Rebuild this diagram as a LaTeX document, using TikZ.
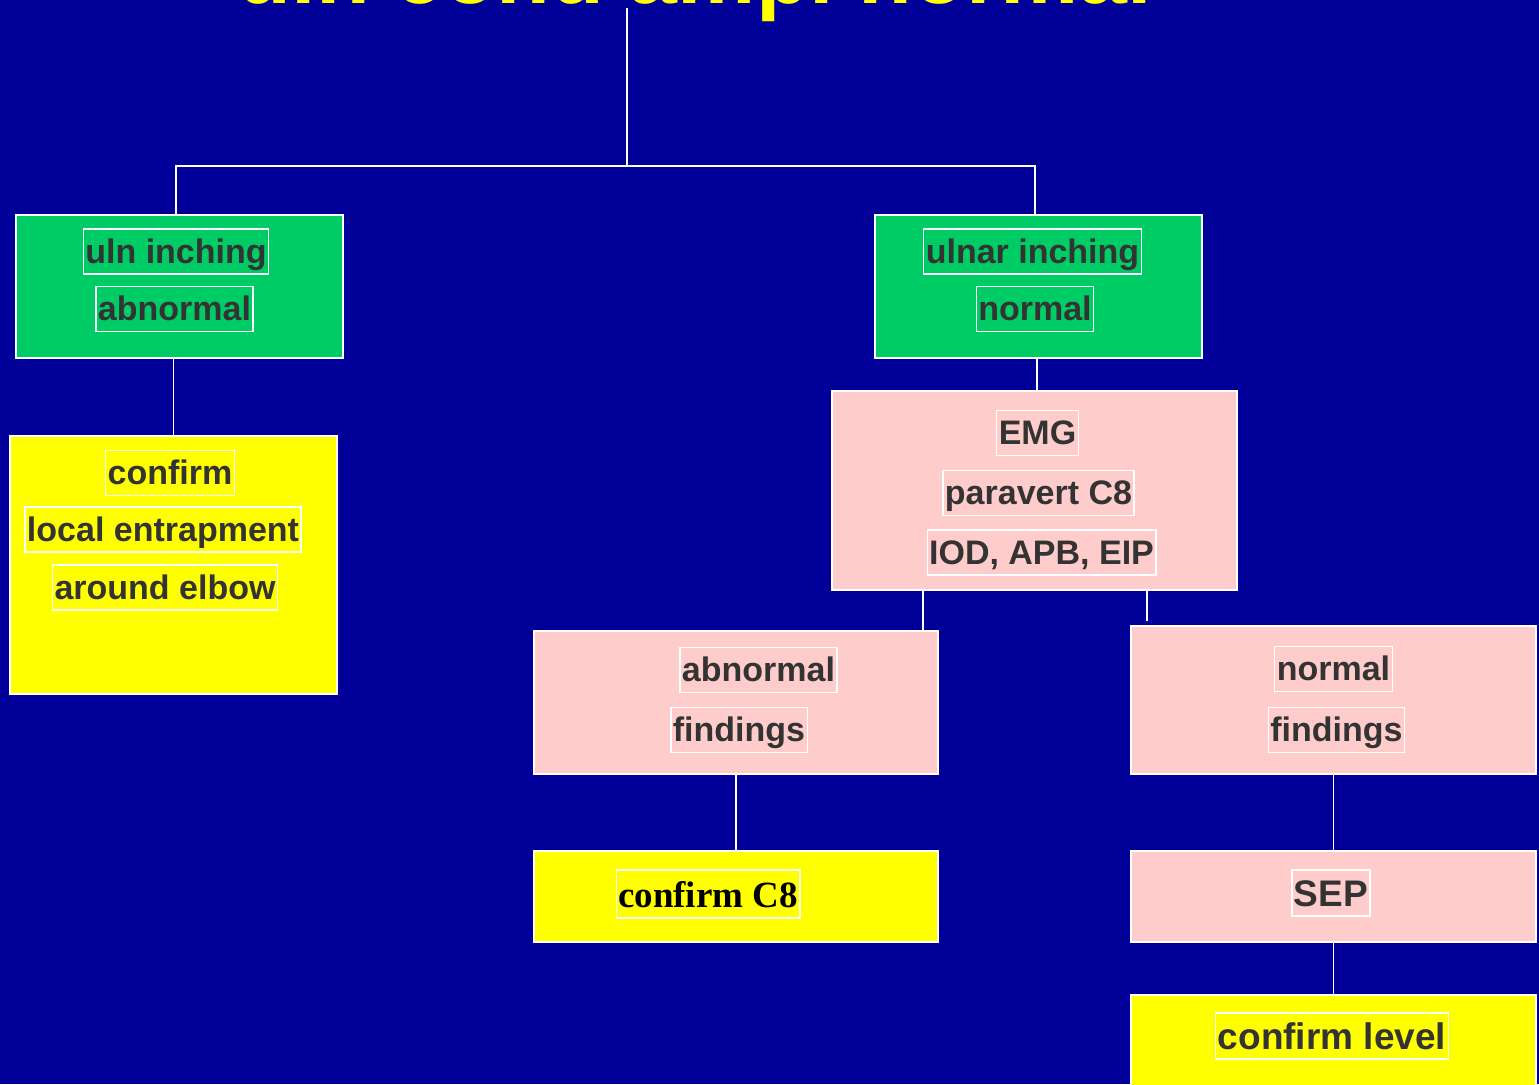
\documentclass[tikz,border=0pt]{standalone}
\usepackage{fontspec}
\setmainfont{Liberation Sans}
\newfontfamily\timesbold{Liberation Serif}
\usepackage{tikz}
\usetikzlibrary{calc}

\definecolor{bgblue}{HTML}{000099}
\definecolor{boxgreen}{HTML}{00CC66}
\definecolor{boxpink}{HTML}{FFCCCC}
\definecolor{boxyellow}{HTML}{FFFF00}
\definecolor{txtgray}{HTML}{333333}

\tikzset{
  box/.style={draw=white, line width=1.5pt, inner sep=0pt},
  greenbox/.style={box, fill=boxgreen},
  pinkbox/.style={box, fill=boxpink},
  yellowbox/.style={box, fill=boxyellow},
  tag/.style={draw=white, line width=1.2pt, text=txtgray, inner xsep=2pt, inner ysep=5pt,
    text height=29pt, text depth=6pt, font=\fontsize{34}{40}\selectfont\bfseries},
  bigtag/.style={tag, text height=31pt, text depth=5pt, font=\fontsize{37}{42}\selectfont\bfseries},
  link/.style={draw=white, line width=1.5pt},
  heading/.style={text=boxyellow, inner sep=0pt, font=\fontsize{88}{100}\selectfont\bfseries}
}

\begin{document}
\begin{tikzpicture}[x=1pt, y=-1pt]
			%%%%% START %%%%%
			\useasboundingbox (0,0) rectangle (1539,1084);
			\clip (0,0) rectangle (1539,1084);
			\fill[bgblue] (0,0) rectangle (1539,1084);
			
			\node[heading, anchor=base] (title) at (695,4) {uln cond ampl normal};
			
			% boxes
			\node[greenbox, minimum width=327pt, minimum height=143pt] (ulnabn) at (179.5,286.5) {};
			\node[greenbox, minimum width=327pt, minimum height=143pt] (ulnnorm) at (1038.5,286.5) {};
			\node[yellowbox, minimum width=327pt, minimum height=258pt] (entrap) at (173.5,565) {};
			\node[pinkbox, minimum width=405pt, minimum height=199pt] (emg) at (1034.5,490.5) {};
			\node[pinkbox, minimum width=404pt, minimum height=143pt] (abnfind) at (736,702.5) {};
			\node[pinkbox, minimum width=405pt, minimum height=148pt] (normfind) at (1333.5,700) {};
			\node[yellowbox, minimum width=404pt, minimum height=91pt] (cfeight) at (736,896.5) {};
			\node[pinkbox, minimum width=405pt, minimum height=91pt] (sep) at (1333.5,896.5) {};
			\node[yellowbox, minimum width=405pt, minimum height=100pt] (level) at (1333.5,1045) {};
			
			% texts
			\node[tag] (ulnabnA) at (176,251.5) {uln inching};
			\node[tag] (ulnabnB) at (174.5,309) {abnormal};
			\node[tag] (ulnnormA) at (1032.5,251.5) {ulnar inching};
			\node[tag] (ulnnormB) at (1035,309) {normal};
			
			\node[tag] (entrapA) at (170,473) {confirm};
			\node[tag] (entrapB) at (163,529.5) {local entrapment};
			\node[tag] (entrapC) at (165,587.5) {around elbow};
			
			\node[tag] (emgA) at (1037.5,433) {EMG};
			\node[tag] (emgB) at (1038.5,493) {paravert C8};
			\node[tag] (emgC) at (1041.5,552.5) {IOD, APB, EIP};
			
			\node[tag] (abnfindA) at (758.5,670) {abnormal};
			\node[tag] (abnfindB) at (739,730) {findings};
			\node[tag] (normfindA) at (1333.5,669) {normal};
			\node[tag] (normfindB) at (1336.5,730) {findings};
			
			\node[tag, text=black, inner ysep=6pt, text height=31pt, text depth=5pt,
			  font=\timesbold\fontsize{37}{42}\selectfont\bfseries] (cfeightA) at (708,894) {confirm C8};
			\node[bigtag] (sepA) at (1331,893) {SEP};
			\node[bigtag] (levelA) at (1332,1036) {confirm level};
			
			% connectors
			\coordinate (top) at (627,8);
			\coordinate (split) at (627,166);
			\draw[link] (top) -- (split);
			\draw[link] (split) -| ([xshift=-3.5pt]ulnabn.north);
			\draw[link] (split) -| ([xshift=-3.5pt]ulnnorm.north);
			\draw[link] (ulnabn.south -| entrap.north) -- (entrap.north);
			\draw[link] ([xshift=-1.5pt]ulnnorm.south) -- ([xshift=-1.5pt]ulnnorm.south |- emg.north);
			\draw[link] ([xshift=-111.5pt]emg.south) -- ([xshift=-111.5pt]emg.south |- abnfind.north);
			\draw[link] ([xshift=112.5pt]emg.south) -- ([xshift=112.5pt,yshift=4pt]emg.south |- normfind.north);
			\draw[link] (abnfind.south) -- (cfeight.north);
			\draw[link] (normfind.south) -- (sep.north);
			\draw[link] (sep.south) -- (level.north);
			%%%%% END %%%%%
\end{tikzpicture}
\end{document}
